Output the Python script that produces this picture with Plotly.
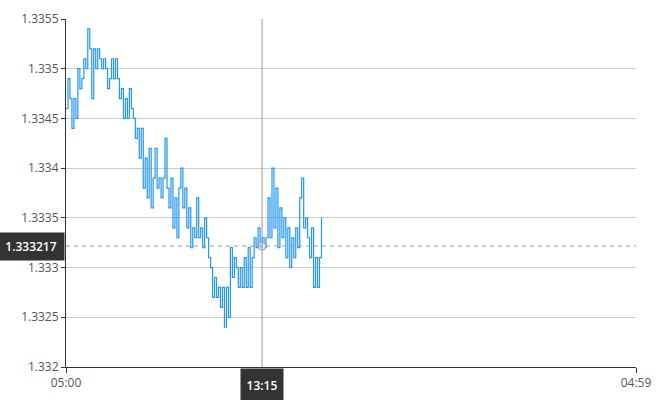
import plotly.graph_objects as go
import pandas as pd

# ---- data ----
start_time = "2020-01-01 05:00"
end_time = "2020-01-02 04:59"
prices = [
    1.3346, 1.3349, 1.3347, 1.3344, 1.3347, 1.3345, 1.3350, 1.3348, 1.3349, 1.3351,
    1.3350, 1.3354, 1.3352, 1.3347, 1.3352, 1.3350, 1.3352, 1.3351, 1.3350, 1.3351,
    1.3350, 1.3348, 1.3349, 1.3351, 1.3349, 1.3351, 1.3349, 1.3347, 1.3348, 1.3345,
    1.3347, 1.3345, 1.3348, 1.3346, 1.3345, 1.3343, 1.3344, 1.3341, 1.3344, 1.3338,
    1.3341, 1.3337, 1.3342, 1.3336, 1.3339, 1.3342, 1.3338, 1.3339, 1.3337, 1.3339,
    1.3343, 1.3338, 1.3336, 1.3339, 1.3334, 1.3337, 1.3333, 1.3338, 1.3340, 1.3336,
    1.3338, 1.3334, 1.3336, 1.3332, 1.3334, 1.3333, 1.3337, 1.3333, 1.3334, 1.3332,
    1.3335, 1.3333, 1.3331, 1.3330, 1.3327, 1.3329, 1.3327, 1.3328, 1.3326, 1.3328,
    1.3324, 1.3328, 1.3325, 1.3332, 1.3329, 1.3331, 1.3330, 1.3328, 1.3330, 1.3328,
    1.3331, 1.3328, 1.3332, 1.3328, 1.3331, 1.3333, 1.3332, 1.3334, 1.3332, 1.3333,
    1.3332, 1.3333, 1.3337, 1.3333, 1.3340, 1.3334, 1.3338, 1.3332, 1.3336, 1.3333,
    1.3335, 1.3331, 1.3334, 1.3330, 1.3333, 1.3331, 1.3334, 1.3332, 1.3337, 1.3339,
    1.3334, 1.3335, 1.3333, 1.3331, 1.3334, 1.3328, 1.3331, 1.3328, 1.3331, 1.3335,
]
times = pd.date_range(start_time, periods=len(prices), freq="5min")
y_ticks = [1.332, 1.3325, 1.333, 1.3335, 1.334, 1.3345, 1.335, 1.3355]
y_tick_text = ["1.332", "1.3325", "1.333", "1.3335", "1.334", "1.3345", "1.335", "1.3355"]
x_tick_vals = [start_time, end_time]
x_tick_text = ["05:00", "04:59"]
cross_time = "2020-01-01 13:15"
cross_time_label = "13:15"
cross_price = 1.333217
cross_price_label = "1.333217"

fig = go.Figure()
fig.add_trace(go.Scatter(
    x=times, y=prices, mode="lines",
    line=dict(color="#2196F3", width=1.2, shape="hv"),
    hoverinfo="skip", showlegend=False,
))
# crosshair marker
fig.add_trace(go.Scatter(
    x=[cross_time], y=[cross_price], mode="markers",
    marker=dict(size=8, color="rgba(255,255,255,0.6)", line=dict(color="#999", width=1)),
    hoverinfo="skip", showlegend=False,
))

fig.add_shape(type="line", xref="x", yref="paper", x0=cross_time, x1=cross_time,
              y0=0, y1=1, line=dict(color="#999", width=1), layer="above")
fig.add_shape(type="line", xref="paper", yref="y", x0=0, x1=1,
              y0=cross_price, y1=cross_price,
              line=dict(color="#999", width=1, dash="4px,4px"), layer="above")

fig.add_annotation(x=0, xref="paper", xanchor="right", y=cross_price, yref="y",
                   text=cross_price_label, showarrow=False, bgcolor="#333",
                   font=dict(color="white", size=12, family="Open Sans", weight=600),
                   width=54, height=15, borderpad=6, xshift=-1)
fig.add_annotation(x=cross_time, xref="x", y=0, yref="paper", yanchor="top",
                   text=cross_time_label, showarrow=False, bgcolor="#333",
                   font=dict(color="white", size=12, family="Open Sans", weight=600),
                   width=30, height=20, borderpad=6, yshift=-1)

fig.update_layout(
    width=670, height=400,
    margin=dict(l=66, r=34, t=19, b=33, autoexpand=False),
    paper_bgcolor="white", plot_bgcolor="white",
    font=dict(family="Open Sans", size=12, color="#555"),
    hovermode=False,
    xaxis=dict(
        range=[start_time, end_time], tickvals=x_tick_vals, ticktext=x_tick_text,
        showgrid=False, showline=True, linecolor="#333", linewidth=1,
        ticks="outside", ticklen=5, tickcolor="#333", zeroline=False,
        automargin=False,
    ),
    yaxis=dict(
        range=[1.332, 1.3355], tickvals=y_ticks, ticktext=y_tick_text,
        showgrid=True, gridcolor="#ccc", gridwidth=1,
        showline=True, linecolor="#333", linewidth=1,
        ticks="outside", ticklen=4, tickcolor="#333", zeroline=False,
        automargin=False,
    ),
)

fig.write_html("out.html", config={"displayModeBar": False},
               post_script="document.body.style.margin='0';document.body.style.overflow='hidden';")
